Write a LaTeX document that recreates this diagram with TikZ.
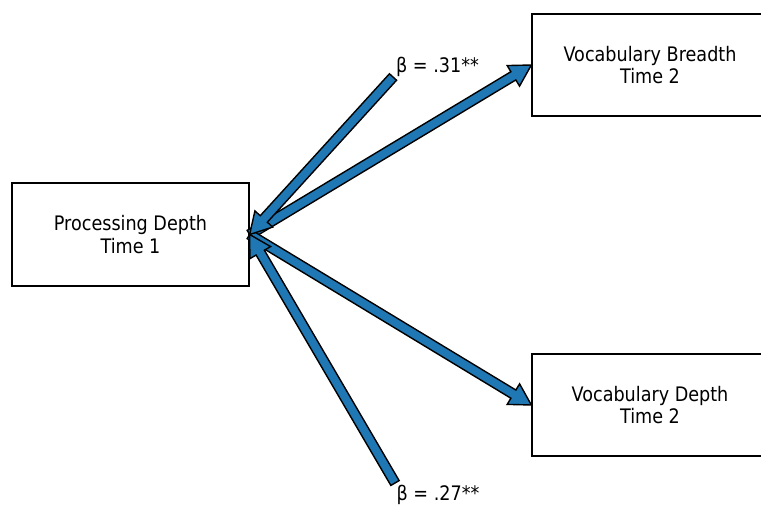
\documentclass[tikz,border=0pt]{standalone}
\usepackage{fontspec}
\setmainfont[FakeStretch=0.88]{DejaVu Sans}
\usetikzlibrary{calc}
\definecolor{arrowblue}{HTML}{1F77B4}
\tikzset{
  box/.style={draw=black, line width=1.3pt, fill=white, align=center,
    font=\fontsize{20}{22.5}\selectfont, inner sep=0pt},
  lab/.style={font=\fontsize{20}{22}\selectfont, inner sep=0pt, anchor=base},
  fatarrowstyle/.style={fill=arrowblue, draw=black, line width=1.4pt, line join=miter}
}
\newcommand{\fatarrow}[2]{%
  \coordinate (fa-h) at ($(#2)!21pt!(#1)$);
  \filldraw[fatarrowstyle] ($(#1)!4.8pt!90:(#2)$) -- ($(fa-h)!4.8pt!90:(#2)$)
    -- ($(fa-h)!12pt!90:(#2)$) -- (#2) -- ($(fa-h)!12pt!-90:(#2)$)
    -- ($(fa-h)!4.8pt!-90:(#2)$) -- ($(#1)!4.8pt!-90:(#2)$) -- cycle;}
\begin{document}
\begin{tikzpicture}[x=1pt,y=-1pt]
\useasboundingbox (0,0) rectangle (761,504);
\clip (0,0) rectangle (761,504);
\fill[white] (0,0) rectangle (761,504);
\node[box, minimum width=237pt, minimum height=103pt] (proc) at (130.5,234.5) {Processing Depth\\Time 1};
\node[box, minimum width=236pt, minimum height=102pt] (breadth) at (650,65) {Vocabulary Breadth\\Time 2};
\node[box, minimum width=236pt, minimum height=102pt] (depth) at (650,405) {Vocabulary Depth\\Time 2};
\node[lab] (lab1) at (437.5,72) {β = .31**};
\node[lab] (lab2) at (438,500) {β = .27**};
\coordinate (s1) at (393,77);
\coordinate (s2) at (395,483);
\coordinate (pe) at (proc.east);
\fatarrow{pe}{breadth.west}
\fatarrow{pe}{depth.west}
\fatarrow{s1}{pe}
\fatarrow{s2}{pe}
\end{tikzpicture}
\end{document}
